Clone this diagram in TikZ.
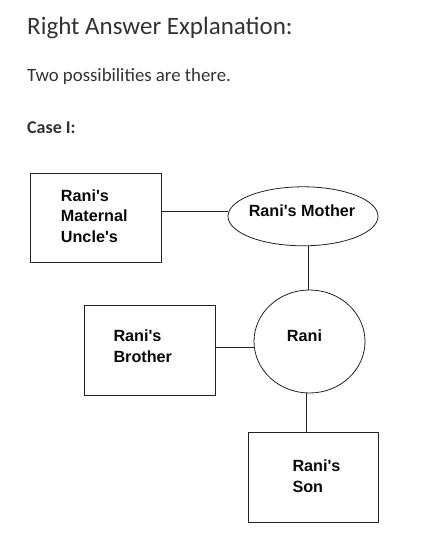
\documentclass[tikz,border=0pt]{standalone}
\usepackage{fontspec}
\setmainfont{Carlito}
\newfontfamily\diagfont{Liberation Sans}
\usetikzlibrary{shapes.geometric}
\definecolor{bodytext}{HTML}{333333}
\definecolor{linecol}{HTML}{222222}
\definecolor{diagtext}{HTML}{0A0A0A}
\begin{document}
\begin{tikzpicture}[x=1pt,y=-1pt,
  heading/.style={anchor=base west,inner sep=0,text=bodytext,font=\fontsize{25}{29}\selectfont},
  bodyline/.style={anchor=base west,inner sep=0,text=bodytext,font=\fontsize{18.8}{22}\selectfont},
  casehead/.style={anchor=base west,inner sep=0,text=bodytext,font=\fontsize{18}{21}\selectfont\bfseries},
  boxshape/.style={draw=linecol,line width=0.9pt,rectangle,inner sep=0},
  ovalshape/.style={draw=linecol,line width=0.8pt,ellipse,inner sep=0},
  boxtext/.style={inner sep=0,align=left,text=diagtext,font=\diagfont\fontsize{16.2}{20.5}\selectfont\bfseries},
  link/.style={draw=linecol,line width=0.9pt}]
\useasboundingbox[fill=white] (0,0) rectangle (422,545);

\node[heading] (title) at (27,35) {Right Answer Explanation:};
\node[bodyline] (intro) at (27,81.7) {Two possibilities are there.};
\node[casehead] (case) at (27,134) {Case I:};

% shapes
\node[boxshape,minimum width=131pt,minimum height=89pt] (uncle) at (95.5,217.5) {};
\node[ovalshape,minimum width=150pt,minimum height=59pt] (mother) at (303,216.3) {};
\node[ovalshape,minimum width=111pt,minimum height=103pt] (rani) at (309.5,341.5) {};
\node[boxshape,minimum width=131pt,minimum height=90pt] (brother) at (149.5,350) {};
\node[boxshape,minimum width=130pt,minimum height=90pt] (son) at (313.3,477.5) {};

% texts
\node[boxtext,anchor=north west] (uncletext) at (60.7,189.3) {Rani's\\Maternal\\Uncle's};
\node[boxtext,anchor=base] (mothertext) at (302,216.7) {Rani's Mother};
\node[boxtext,anchor=base] (ranitext) at (304.5,341.7) {Rani};
\node[boxtext,anchor=north west] (brothertext) at (113.3,330) {Rani's\\Brother};
\node[boxtext,anchor=north west] (sontext) at (292.3,460) {Rani's\\Son};

% connectors
\draw[link] ([yshift=6.5pt]uncle.east) -- ([yshift=6.5pt]uncle.east -| mother.west);
\draw[link] ([xshift=-1.5pt]rani.north) -- ([xshift=-1.5pt]rani.north |- mother.south);
\draw[link] ([yshift=2.7pt]brother.east) -- ([yshift=2.7pt]brother.east -| rani.west);
\draw[link] ([xshift=-3.5pt]rani.south) -- ([xshift=-3.5pt]rani.south |- son.north);
\end{tikzpicture}
\end{document}
